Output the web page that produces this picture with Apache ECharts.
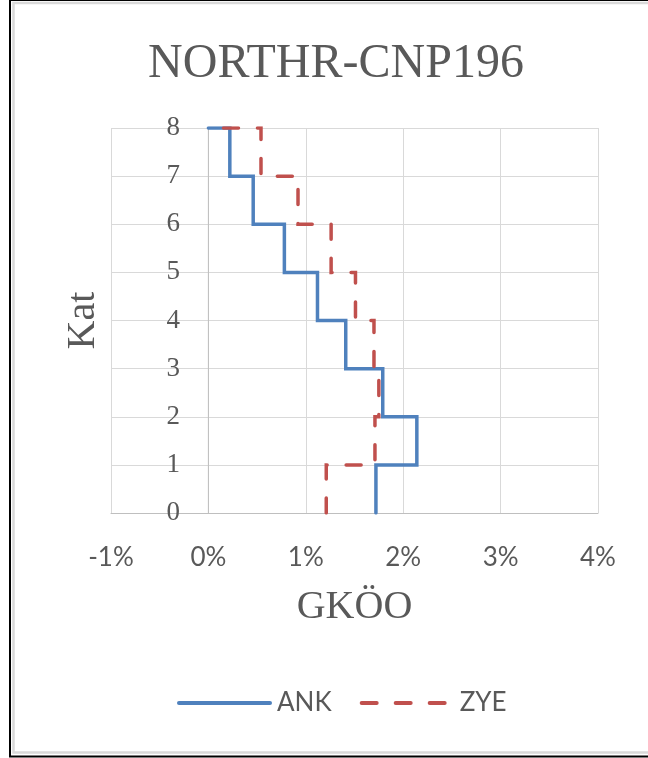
<!DOCTYPE html>
<html>
<head>
<meta charset="utf-8">
<script src="https://cdn.jsdelivr.net/npm/echarts@6/dist/echarts.min.js"></script>
<style>
  html, body { margin: 0; padding: 0; background: #ffffff; }
  #chart { width: 648px; height: 758px; }
</style>
</head>
<body>
<div id="chart"></div>
<script>
// Storey numbers and inter-storey drift ratios (%) for each record
const stories = [1, 2, 3, 4, 5, 6, 7, 8];
const ankDrift = [1.72, 2.14, 1.79, 1.41, 1.12, 0.78, 0.46, 0.22];
const zyeDrift = [1.21, 1.71, 1.75, 1.70, 1.51, 1.26, 0.92, 0.54];
const roofDrift = 0;
const xTicks = [-1, 0, 1, 2, 3, 4];
const yTicks = [0, 1, 2, 3, 4, 5, 6, 7, 8];

// Turn per-storey drifts into a staircase profile: each storey is a
// vertical segment between its floor and ceiling levels.
function stepProfile(drifts) {
  const pts = [];
  drifts.forEach((d, i) => {
    pts.push([d, stories[i] - 1]);
    pts.push([d, stories[i]]);
  });
  pts.push([roofDrift, stories[stories.length - 1]]);
  return pts;
}

const textGrey = '#595959';
const serif = '"Liberation Serif", "DejaVu Serif", serif';
const sans = 'Lato, "Open Sans", sans-serif';

const chart = echarts.init(document.getElementById('chart'), null, { renderer: 'canvas' });
chart.setOption({
  animation: false,
  backgroundColor: '#ffffff',
  title: {
    text: 'NORTHR-CNP196',
    left: 331,
    top: 35,
    textAlign: 'center',
    textStyle: { fontFamily: serif, fontSize: 48, fontWeight: 'normal', color: textGrey }
  },
  graphic: [
    { type: 'rect', shape: { x: 10, y: 0, width: 700, height: 756.5 },
      style: { fill: 'none', stroke: '#000000', lineWidth: 2 }, silent: true },
    { type: 'rect', shape: { x: 13.5, y: 3, width: 700, height: 749.5 },
      style: { fill: 'none', stroke: '#d9d9d9', lineWidth: 2.5 }, silent: true }
  ],
  legend: {
    left: 172,
    top: 685,
    itemWidth: 91,
    itemHeight: 24,
    itemGap: 28,
    itemStyle: { opacity: 0 },
    lineStyle: { width: 4, cap: 'round' },
    textStyle: { fontFamily: sans, fontSize: 26, color: textGrey, padding: [0, 0, 0, 2] },
    data: ['ANK', 'ZYE']
  },
  grid: { left: 111, right: 50, top: 128, bottom: 245, containLabel: false, outerBoundsMode: 'none' },
  xAxis: {
    type: 'value',
    min: xTicks[0],
    max: xTicks[xTicks.length - 1],
    interval: 1,
    name: 'GKÖO',
    nameLocation: 'middle',
    nameGap: 74,
    nameTextStyle: { fontFamily: serif, fontSize: 40, color: textGrey },
    axisLine: { show: true, lineStyle: { color: '#bfbfbf', width: 1 } },
    axisTick: { show: false },
    axisLabel: {
      margin: 32,
      fontFamily: sans, fontSize: 26, color: textGrey,
      formatter: v => v + '%'
    },
    splitLine: { show: true, lineStyle: { color: '#d9d9d9', width: 1 } }
  },
  yAxis: {
    type: 'value',
    min: yTicks[0],
    max: yTicks[yTicks.length - 1],
    interval: 1,
    name: 'Kat',
    nameLocation: 'middle',
    nameGap: 8,
    nameRotate: 90,
    nameTextStyle: { fontFamily: serif, fontSize: 40, color: textGrey },
    axisLine: { show: false },
    axisTick: { show: false },
    axisLabel: { margin: -69, fontFamily: serif, fontSize: 27, color: textGrey },
    splitLine: { show: true, lineStyle: { color: '#d9d9d9', width: 1 } }
  },
  series: [
    {
      name: 'ANK',
      type: 'line',
      data: stepProfile(ankDrift),
      symbol: 'none',
      color: '#4f81bd',
      lineStyle: { color: '#4f81bd', width: 3.5, cap: 'round', join: 'miter' },
      z: 2
    },
    {
      name: 'ZYE',
      type: 'line',
      data: stepProfile(zyeDrift),
      symbol: 'none',
      color: '#c0504d',
      lineStyle: { color: '#c0504d', width: 3.5, type: [15, 19], cap: 'round', join: 'miter' },
      z: 3
    },
    {
      // vertical axis line drawn through the zero drift position
      type: 'line',
      data: [[0, yTicks[0]], [0, yTicks[yTicks.length - 1]]],
      symbol: 'none',
      silent: true,
      lineStyle: { color: '#bfbfbf', width: 1 },
      z: 1
    }
  ]
});
</script>
</body>
</html>
